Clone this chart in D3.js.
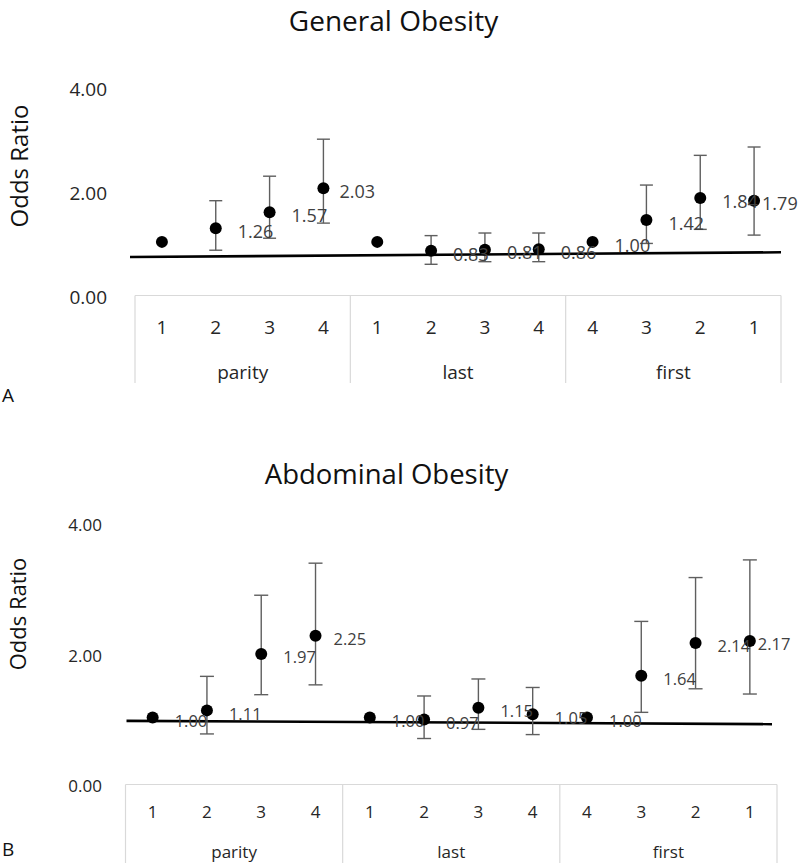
<!DOCTYPE html>
<html>
<head>
<meta charset="utf-8">
<script src="https://cdn.jsdelivr.net/npm/d3@7"></script>
<style>
  html, body { margin: 0; padding: 0; background: #fff; }
  svg { display: block; }
  text { font-family: "Open Sans", "Noto Sans", sans-serif; }
</style>
</head>
<body>
<svg id="chart" width="800" height="863"></svg>
<script>
// ---------------- data ----------------
const groups = ["parity", "last", "first"];
const categories = ["1", "2", "3", "4", "1", "2", "3", "4", "4", "3", "2", "1"];
const yTicks = [0, 2, 4];

const generalTitle = "General Obesity";
const generalOR    = [1.00, 1.26, 1.57, 2.03, 1.00, 0.83, 0.85, 0.86, 1.00, 1.42, 1.84, 1.79];
const generalLow   = [null, 0.84, 1.07, 1.36, null, 0.57, 0.62, 0.62, null, 0.97, 1.24, 1.13];
const generalHigh  = [null, 1.79, 2.26, 2.97, null, 1.12, 1.17, 1.17, null, 2.09, 2.66, 2.82];
const generalLabels = ["", "1.26", "1.57", "2.03", "", "0.83", "0.81", "0.86", "1.00", "1.42", "1.84", "1.79"];
const generalRef   = [0.71, 0.80];

const abdominalTitle = "Abdominal Obesity";
const abdominalOR    = [1.00, 1.11, 1.97, 2.25, 1.00, 0.97, 1.15, 1.05, 1.00, 1.64, 2.14, 2.17];
const abdominalLow   = [null, 0.75, 1.35, 1.50, null, 0.68, 0.82, 0.74, null, 1.08, 1.44, 1.36];
const abdominalHigh  = [null, 1.63, 2.87, 3.36, null, 1.33, 1.59, 1.46, null, 2.47, 3.14, 3.41];
const abdominalLabels = ["1.00", "1.11", "1.97", "2.25", "1.00", "0.97", "1.15", "1.05", "1.00", "1.64", "2.14", "2.17"];
const abdominalRef   = [0.95, 0.90];

// ---------------- layout (styles / positions) ----------------
const panels = [
  {
    letter: "A", title: generalTitle, or: generalOR, low: generalLow, high: generalHigh,
    labels: generalLabels, ref: generalRef,
    left: 135, right: 781, y0: 294, y4: 85.5,
    titleX: 393.5, titleY: 31, titleSize: 28,
    yLabX: 28, yLabY: 166, yLabSize: 24,
    tickRight: 107, tickSize: 19, dataSize: 18, catSize: 19,
    catY: 327, groupY: 372, boxBottom: 383,
    letterY: 402, refX: [-5, 0], capW: 13, r: 6,
    labelDx: {3: 16, 11: 8}
  },
  {
    letter: "B", title: abdominalTitle, or: abdominalOR, low: abdominalLow, high: abdominalHigh,
    labels: abdominalLabels, ref: abdominalRef,
    left: 125.5, right: 777, y0: 783, y4: 521.3,
    titleX: 386.5, titleY: 484, titleSize: 27.5,
    yLabX: 26, yLabY: 614, yLabSize: 22,
    tickRight: 102, tickSize: 17, dataSize: 16.5, catSize: 17,
    catY: 812, groupY: 852, boxBottom: 863,
    letterY: 856, refX: [1, -5], capW: 14, r: 6,
    labelDx: {3: 18, 11: 8}
  }
];

const svg = d3.select("#chart");

panels.forEach(p => {
  const g = svg.append("g");
  const idx = d3.range(categories.length);
  const x = d3.scaleBand().domain(idx).range([p.left, p.right]);
  const y = d3.scaleLinear().domain([0, 4]).range([p.y0, p.y4]);
  const cx = i => x(i) + x.bandwidth() / 2;

  // title
  g.append("text").attr("x", p.titleX).attr("y", p.titleY)
    .attr("text-anchor", "middle").attr("font-size", p.titleSize)
    .attr("font-family", "Inter, 'Open Sans', sans-serif")
    .attr("fill", "#111").text(p.title);

  // y axis title
  g.append("text")
    .attr("transform", `translate(${p.yLabX},${p.yLabY}) rotate(-90)`)
    .attr("text-anchor", "middle").attr("font-size", p.yLabSize)
    .attr("font-family", "Inter, 'Open Sans', sans-serif")
    .attr("fill", "#111").text("Odds Ratio");

  // y axis
  const yAxis = g.append("g")
    .attr("transform", `translate(${p.tickRight},3.5)`)
    .call(d3.axisLeft(y).tickValues(yTicks).tickFormat(d3.format(".2f")).tickSize(0).tickPadding(0));
  yAxis.select(".domain").remove();
  yAxis.selectAll("text").attr("font-size", p.tickSize).attr("fill", "#262626")
    .attr("font-family", "'Open Sans', sans-serif");

  // category box
  const boxTop = y(0) + 1.5;
  g.append("line").attr("x1", p.left).attr("x2", p.right)
    .attr("y1", boxTop).attr("y2", boxTop).attr("stroke", "#d9d9d9").attr("stroke-width", 1.2);
  const seps = [0, 4, 8].map(i => x(i)).concat([p.right]);
  g.selectAll(".sep").data(seps).join("line")
    .attr("x1", d => d).attr("x2", d => d)
    .attr("y1", boxTop).attr("y2", p.boxBottom)
    .attr("stroke", "#d9d9d9").attr("stroke-width", 1.2);

  // category numbers
  const xAxis = g.append("g")
    .attr("transform", `translate(0,${p.catY})`)
    .call(d3.axisBottom(x).tickFormat(i => categories[i]).tickSize(0).tickPadding(0));
  xAxis.select(".domain").remove();
  xAxis.selectAll("text").attr("font-size", p.catSize).attr("fill", "#262626")
    .attr("dy", "0.35em").attr("font-family", "'Open Sans', sans-serif");

  // group labels
  g.selectAll(".grp").data(groups).join("text")
    .attr("x", (d, k) => (x(k * 4) + (k < 2 ? x(k * 4 + 4) : p.right)) / 2)
    .attr("y", p.groupY).attr("dy", "0.35em")
    .attr("text-anchor", "middle").attr("font-size", p.catSize)
    .attr("fill", "#262626").text(d => d);

  // reference line
  const refPts = [[p.left + p.refX[0], p.ref[0]], [p.right + p.refX[1], p.ref[1]]];
  g.append("path")
    .attr("d", d3.line().x(d => d[0]).y(d => y(d[1]))(refPts))
    .attr("stroke", "#000").attr("stroke-width", 2.6).attr("fill", "none");

  // error bars
  const eb = idx.filter(i => p.low[i] != null);
  const ebG = g.append("g").attr("stroke", "#5f5f5f").attr("stroke-width", 1.4);
  ebG.selectAll(".v").data(eb).join("line")
    .attr("x1", cx).attr("x2", cx)
    .attr("y1", i => y(p.low[i])).attr("y2", i => y(p.high[i]));
  ebG.selectAll(".t").data(eb).join("line")
    .attr("x1", i => cx(i) - p.capW / 2).attr("x2", i => cx(i) + p.capW / 2)
    .attr("y1", i => y(p.high[i])).attr("y2", i => y(p.high[i]));
  ebG.selectAll(".b").data(eb).join("line")
    .attr("x1", i => cx(i) - p.capW / 2).attr("x2", i => cx(i) + p.capW / 2)
    .attr("y1", i => y(p.low[i])).attr("y2", i => y(p.low[i]));

  // points
  g.selectAll(".pt").data(idx).join("circle")
    .attr("cx", cx).attr("cy", i => y(p.or[i])).attr("r", p.r).attr("fill", "#000");

  // data labels
  g.selectAll(".lbl").data(idx.filter(i => p.labels[i] !== "")).join("text")
    .attr("x", i => cx(i) + (p.labelDx[i] != null ? p.labelDx[i] : 22))
    .attr("y", i => y(p.or[i]) + 3.5).attr("dy", "0.35em")
    .attr("font-size", p.dataSize).attr("fill", "#404040")
    .text(i => p.labels[i]);

  // panel letter
  g.append("text").attr("x", 2).attr("y", p.letterY)
    .attr("font-family", "'Liberation Sans', Arial, sans-serif")
    .attr("font-size", 19).attr("fill", "#111").text(p.letter);
});
</script>
</body>
</html>
